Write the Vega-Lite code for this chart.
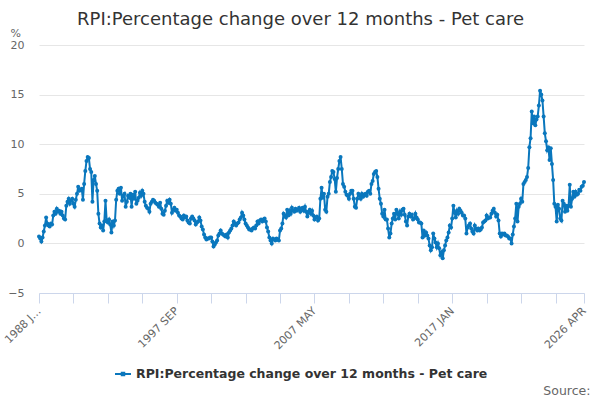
{
  "$schema": "https://vega.github.io/schema/vega-lite/v6.json",
  "description": "RPI: Percentage change over 12 months - Pet care, monthly.",
  "autosize": "none",
  "padding": {"left": 39, "top": 45, "right": 16, "bottom": 107},
  "width": 545,
  "height": 248,
  "title": {
    "text": "RPI:Percentage change over 12 months - Pet care",
    "anchor": "middle",
    "frame": "group",
    "dx": -11,
    "dy": 19,
    "offset": 17,
    "fontSize": 18,
    "fontWeight": "normal",
    "color": "#333333"
  },
  "data": {
    "values": [
      {"month": "1988 JAN", "value": 0.7}, {"month": "1988 FEB", "value": 0.5}, {"month": "1988 MAR", "value": 0.2}, {"month": "1988 APR", "value": 0.6}, {"month": "1988 MAY", "value": 1.2}, {"month": "1988 JUN", "value": 1.8}, {"month": "1988 JUL", "value": 2.6}, {"month": "1988 AUG", "value": 2.0}, {"month": "1988 SEP", "value": 1.8}, {"month": "1988 OCT", "value": 1.7}, {"month": "1988 NOV", "value": 2.0}, {"month": "1988 DEC", "value": 1.9},
      {"month": "1989 JAN", "value": 2.8}, {"month": "1989 FEB", "value": 3.2}, {"month": "1989 MAR", "value": 3.0}, {"month": "1989 APR", "value": 3.5}, {"month": "1989 MAY", "value": 3.2}, {"month": "1989 JUN", "value": 3.3}, {"month": "1989 JUL", "value": 3.0}, {"month": "1989 AUG", "value": 3.2}, {"month": "1989 SEP", "value": 2.8}, {"month": "1989 OCT", "value": 2.5}, {"month": "1989 NOV", "value": 2.4}, {"month": "1989 DEC", "value": 3.8},
      {"month": "1990 JAN", "value": 4.2}, {"month": "1990 FEB", "value": 4.5}, {"month": "1990 MAR", "value": 4.0}, {"month": "1990 APR", "value": 4.3}, {"month": "1990 MAY", "value": 4.5}, {"month": "1990 JUN", "value": 4.0}, {"month": "1990 JUL", "value": 3.7}, {"month": "1990 AUG", "value": 4.4}, {"month": "1990 SEP", "value": 5.0}, {"month": "1990 OCT", "value": 5.7}, {"month": "1990 NOV", "value": 5.3}, {"month": "1990 DEC", "value": 5.4},
      {"month": "1991 JAN", "value": 5.5}, {"month": "1991 FEB", "value": 4.4}, {"month": "1991 MAR", "value": 6.0}, {"month": "1991 APR", "value": 7.3}, {"month": "1991 MAY", "value": 8.3}, {"month": "1991 JUN", "value": 8.7}, {"month": "1991 JUL", "value": 8.6}, {"month": "1991 AUG", "value": 7.5}, {"month": "1991 SEP", "value": 7.2}, {"month": "1991 OCT", "value": 4.2}, {"month": "1991 NOV", "value": 6.4}, {"month": "1991 DEC", "value": 6.8},
      {"month": "1992 JAN", "value": 6.0}, {"month": "1992 FEB", "value": 5.3}, {"month": "1992 MAR", "value": 3.0}, {"month": "1992 APR", "value": 2.0}, {"month": "1992 MAY", "value": 1.6}, {"month": "1992 JUN", "value": 1.8}, {"month": "1992 JUL", "value": 1.3}, {"month": "1992 AUG", "value": 2.2}, {"month": "1992 SEP", "value": 4.3}, {"month": "1992 OCT", "value": 2.3}, {"month": "1992 NOV", "value": 2.1}, {"month": "1992 DEC", "value": 2.4},
      {"month": "1993 JAN", "value": 1.9}, {"month": "1993 FEB", "value": 1.1}, {"month": "1993 MAR", "value": 2.2}, {"month": "1993 APR", "value": 1.8}, {"month": "1993 MAY", "value": 2.3}, {"month": "1993 JUN", "value": 4.4}, {"month": "1993 JUL", "value": 5.3}, {"month": "1993 AUG", "value": 5.5}, {"month": "1993 SEP", "value": 5.0}, {"month": "1993 OCT", "value": 5.6}, {"month": "1993 NOV", "value": 4.3}, {"month": "1993 DEC", "value": 4.8},
      {"month": "1994 JAN", "value": 5.0}, {"month": "1994 FEB", "value": 3.7}, {"month": "1994 MAR", "value": 4.2}, {"month": "1994 APR", "value": 4.8}, {"month": "1994 MAY", "value": 4.6}, {"month": "1994 JUN", "value": 5.0}, {"month": "1994 JUL", "value": 3.7}, {"month": "1994 AUG", "value": 4.9}, {"month": "1994 SEP", "value": 4.5}, {"month": "1994 OCT", "value": 5.2}, {"month": "1994 NOV", "value": 4.0}, {"month": "1994 DEC", "value": 4.3},
      {"month": "1995 JAN", "value": 4.6}, {"month": "1995 FEB", "value": 5.1}, {"month": "1995 MAR", "value": 4.8}, {"month": "1995 APR", "value": 5.3}, {"month": "1995 MAY", "value": 5.0}, {"month": "1995 JUN", "value": 4.2}, {"month": "1995 JUL", "value": 3.8}, {"month": "1995 AUG", "value": 3.6}, {"month": "1995 SEP", "value": 3.5}, {"month": "1995 OCT", "value": 3.2}, {"month": "1995 NOV", "value": 4.0}, {"month": "1995 DEC", "value": 4.2},
      {"month": "1996 JAN", "value": 4.4}, {"month": "1996 FEB", "value": 4.3}, {"month": "1996 MAR", "value": 4.1}, {"month": "1996 APR", "value": 4.0}, {"month": "1996 MAY", "value": 3.9}, {"month": "1996 JUN", "value": 3.7}, {"month": "1996 JUL", "value": 4.1}, {"month": "1996 AUG", "value": 3.5}, {"month": "1996 SEP", "value": 3.0}, {"month": "1996 OCT", "value": 2.9}, {"month": "1996 NOV", "value": 3.3}, {"month": "1996 DEC", "value": 3.8},
      {"month": "1997 JAN", "value": 4.3}, {"month": "1997 FEB", "value": 4.1}, {"month": "1997 MAR", "value": 4.4}, {"month": "1997 APR", "value": 4.0}, {"month": "1997 MAY", "value": 3.1}, {"month": "1997 JUN", "value": 3.4}, {"month": "1997 JUL", "value": 3.6}, {"month": "1997 AUG", "value": 3.3}, {"month": "1997 SEP", "value": 3.4}, {"month": "1997 OCT", "value": 3.1}, {"month": "1997 NOV", "value": 2.8}, {"month": "1997 DEC", "value": 2.7},
      {"month": "1998 JAN", "value": 2.5}, {"month": "1998 FEB", "value": 2.4}, {"month": "1998 MAR", "value": 2.8}, {"month": "1998 APR", "value": 2.6}, {"month": "1998 MAY", "value": 2.7}, {"month": "1998 JUN", "value": 2.3}, {"month": "1998 JUL", "value": 2.1}, {"month": "1998 AUG", "value": 2.0}, {"month": "1998 SEP", "value": 2.5}, {"month": "1998 OCT", "value": 2.7}, {"month": "1998 NOV", "value": 2.5}, {"month": "1998 DEC", "value": 2.3},
      {"month": "1999 JAN", "value": 1.9}, {"month": "1999 FEB", "value": 2.1}, {"month": "1999 MAR", "value": 2.2}, {"month": "1999 APR", "value": 2.6}, {"month": "1999 MAY", "value": 2.3}, {"month": "1999 JUN", "value": 1.7}, {"month": "1999 JUL", "value": 1.4}, {"month": "1999 AUG", "value": 0.9}, {"month": "1999 SEP", "value": 0.6}, {"month": "1999 OCT", "value": 0.4}, {"month": "1999 NOV", "value": 0.5}, {"month": "1999 DEC", "value": 0.5},
      {"month": "2000 JAN", "value": 0.6}, {"month": "2000 FEB", "value": 0.6}, {"month": "2000 MAR", "value": 0.2}, {"month": "2000 APR", "value": -0.3}, {"month": "2000 MAY", "value": -0.1}, {"month": "2000 JUN", "value": 0.1}, {"month": "2000 JUL", "value": 0.3}, {"month": "2000 AUG", "value": 0.8}, {"month": "2000 SEP", "value": 1.0}, {"month": "2000 OCT", "value": 1.3}, {"month": "2000 NOV", "value": 1.0}, {"month": "2000 DEC", "value": 0.9},
      {"month": "2001 JAN", "value": 0.8}, {"month": "2001 FEB", "value": 0.7}, {"month": "2001 MAR", "value": 0.9}, {"month": "2001 APR", "value": 0.6}, {"month": "2001 MAY", "value": 1.1}, {"month": "2001 JUN", "value": 1.3}, {"month": "2001 JUL", "value": 1.5}, {"month": "2001 AUG", "value": 1.8}, {"month": "2001 SEP", "value": 2.2}, {"month": "2001 OCT", "value": 2.0}, {"month": "2001 NOV", "value": 1.8}, {"month": "2001 DEC", "value": 2.0},
      {"month": "2002 JAN", "value": 2.1}, {"month": "2002 FEB", "value": 2.4}, {"month": "2002 MAR", "value": 2.6}, {"month": "2002 APR", "value": 3.1}, {"month": "2002 MAY", "value": 2.8}, {"month": "2002 JUN", "value": 2.4}, {"month": "2002 JUL", "value": 2.0}, {"month": "2002 AUG", "value": 1.8}, {"month": "2002 SEP", "value": 1.6}, {"month": "2002 OCT", "value": 1.4}, {"month": "2002 NOV", "value": 1.4}, {"month": "2002 DEC", "value": 1.3},
      {"month": "2003 JAN", "value": 1.5}, {"month": "2003 FEB", "value": 1.6}, {"month": "2003 MAR", "value": 1.5}, {"month": "2003 APR", "value": 1.8}, {"month": "2003 MAY", "value": 2.2}, {"month": "2003 JUN", "value": 2.0}, {"month": "2003 JUL", "value": 2.3}, {"month": "2003 AUG", "value": 2.4}, {"month": "2003 SEP", "value": 2.2}, {"month": "2003 OCT", "value": 2.4}, {"month": "2003 NOV", "value": 2.5}, {"month": "2003 DEC", "value": 2.2},
      {"month": "2004 JAN", "value": 1.6}, {"month": "2004 FEB", "value": 1.2}, {"month": "2004 MAR", "value": 0.6}, {"month": "2004 APR", "value": 0.3}, {"month": "2004 MAY", "value": 0.0}, {"month": "2004 JUN", "value": 0.5}, {"month": "2004 JUL", "value": 0.4}, {"month": "2004 AUG", "value": 0.3}, {"month": "2004 SEP", "value": 0.5}, {"month": "2004 OCT", "value": 0.4}, {"month": "2004 NOV", "value": 0.3}, {"month": "2004 DEC", "value": 1.3},
      {"month": "2005 JAN", "value": 1.5}, {"month": "2005 FEB", "value": 2.0}, {"month": "2005 MAR", "value": 3.0}, {"month": "2005 APR", "value": 2.8}, {"month": "2005 MAY", "value": 2.6}, {"month": "2005 JUN", "value": 3.4}, {"month": "2005 JUL", "value": 2.8}, {"month": "2005 AUG", "value": 3.3}, {"month": "2005 SEP", "value": 3.0}, {"month": "2005 OCT", "value": 3.6}, {"month": "2005 NOV", "value": 3.3}, {"month": "2005 DEC", "value": 3.2},
      {"month": "2006 JAN", "value": 3.5}, {"month": "2006 FEB", "value": 3.3}, {"month": "2006 MAR", "value": 3.4}, {"month": "2006 APR", "value": 3.6}, {"month": "2006 MAY", "value": 3.2}, {"month": "2006 JUN", "value": 3.5}, {"month": "2006 JUL", "value": 3.6}, {"month": "2006 AUG", "value": 3.3}, {"month": "2006 SEP", "value": 3.7}, {"month": "2006 OCT", "value": 3.2}, {"month": "2006 NOV", "value": 2.7}, {"month": "2006 DEC", "value": 3.2},
      {"month": "2007 JAN", "value": 3.4}, {"month": "2007 FEB", "value": 3.0}, {"month": "2007 MAR", "value": 3.3}, {"month": "2007 APR", "value": 2.8}, {"month": "2007 MAY", "value": 2.4}, {"month": "2007 JUN", "value": 2.6}, {"month": "2007 JUL", "value": 2.7}, {"month": "2007 AUG", "value": 2.3}, {"month": "2007 SEP", "value": 2.5}, {"month": "2007 OCT", "value": 4.5}, {"month": "2007 NOV", "value": 5.6}, {"month": "2007 DEC", "value": 4.6},
      {"month": "2008 JAN", "value": 5.0}, {"month": "2008 FEB", "value": 3.4}, {"month": "2008 MAR", "value": 3.2}, {"month": "2008 APR", "value": 4.7}, {"month": "2008 MAY", "value": 5.0}, {"month": "2008 JUN", "value": 6.2}, {"month": "2008 JUL", "value": 6.7}, {"month": "2008 AUG", "value": 7.3}, {"month": "2008 SEP", "value": 7.2}, {"month": "2008 OCT", "value": 6.5}, {"month": "2008 NOV", "value": 5.2}, {"month": "2008 DEC", "value": 6.6},
      {"month": "2009 JAN", "value": 7.5}, {"month": "2009 FEB", "value": 8.3}, {"month": "2009 MAR", "value": 8.7}, {"month": "2009 APR", "value": 7.5}, {"month": "2009 MAY", "value": 6.0}, {"month": "2009 JUN", "value": 5.7}, {"month": "2009 JUL", "value": 5.2}, {"month": "2009 AUG", "value": 4.9}, {"month": "2009 SEP", "value": 4.8}, {"month": "2009 OCT", "value": 4.5}, {"month": "2009 NOV", "value": 5.0}, {"month": "2009 DEC", "value": 5.3},
      {"month": "2010 JAN", "value": 5.3}, {"month": "2010 FEB", "value": 4.5}, {"month": "2010 MAR", "value": 3.7}, {"month": "2010 APR", "value": 3.6}, {"month": "2010 MAY", "value": 4.5}, {"month": "2010 JUN", "value": 5.0}, {"month": "2010 JUL", "value": 4.8}, {"month": "2010 AUG", "value": 4.5}, {"month": "2010 SEP", "value": 5.0}, {"month": "2010 OCT", "value": 4.7}, {"month": "2010 NOV", "value": 4.9}, {"month": "2010 DEC", "value": 5.0},
      {"month": "2011 JAN", "value": 4.8}, {"month": "2011 FEB", "value": 5.2}, {"month": "2011 MAR", "value": 5.3}, {"month": "2011 APR", "value": 5.0}, {"month": "2011 MAY", "value": 6.0}, {"month": "2011 JUN", "value": 6.3}, {"month": "2011 JUL", "value": 7.0}, {"month": "2011 AUG", "value": 7.2}, {"month": "2011 SEP", "value": 7.3}, {"month": "2011 OCT", "value": 6.7}, {"month": "2011 NOV", "value": 5.5}, {"month": "2011 DEC", "value": 4.5},
      {"month": "2012 JAN", "value": 4.0}, {"month": "2012 FEB", "value": 3.0}, {"month": "2012 MAR", "value": 2.7}, {"month": "2012 APR", "value": 3.4}, {"month": "2012 MAY", "value": 2.4}, {"month": "2012 JUN", "value": 2.4}, {"month": "2012 JUL", "value": 1.5}, {"month": "2012 AUG", "value": 0.6}, {"month": "2012 SEP", "value": 1.0}, {"month": "2012 OCT", "value": 2.0}, {"month": "2012 NOV", "value": 2.5}, {"month": "2012 DEC", "value": 3.0},
      {"month": "2013 JAN", "value": 2.4}, {"month": "2013 FEB", "value": 3.4}, {"month": "2013 MAR", "value": 3.0}, {"month": "2013 APR", "value": 2.5}, {"month": "2013 MAY", "value": 3.2}, {"month": "2013 JUN", "value": 2.9}, {"month": "2013 JUL", "value": 3.4}, {"month": "2013 AUG", "value": 3.5}, {"month": "2013 SEP", "value": 2.9}, {"month": "2013 OCT", "value": 2.2}, {"month": "2013 NOV", "value": 1.8}, {"month": "2013 DEC", "value": 2.7},
      {"month": "2014 JAN", "value": 3.0}, {"month": "2014 FEB", "value": 2.7}, {"month": "2014 MAR", "value": 2.9}, {"month": "2014 APR", "value": 2.4}, {"month": "2014 MAY", "value": 2.5}, {"month": "2014 JUN", "value": 3.0}, {"month": "2014 JUL", "value": 2.6}, {"month": "2014 AUG", "value": 2.4}, {"month": "2014 SEP", "value": 2.1}, {"month": "2014 OCT", "value": 2.1}, {"month": "2014 NOV", "value": 2.0}, {"month": "2014 DEC", "value": 0.6},
      {"month": "2015 JAN", "value": 1.3}, {"month": "2015 FEB", "value": 0.8}, {"month": "2015 MAR", "value": 1.1}, {"month": "2015 APR", "value": 0.8}, {"month": "2015 MAY", "value": 0.5}, {"month": "2015 JUN", "value": -0.2}, {"month": "2015 JUL", "value": -0.7}, {"month": "2015 AUG", "value": -0.4}, {"month": "2015 SEP", "value": 1.0}, {"month": "2015 OCT", "value": 0.5}, {"month": "2015 NOV", "value": 0.1}, {"month": "2015 DEC", "value": -0.4},
      {"month": "2016 JAN", "value": 0.0}, {"month": "2016 FEB", "value": -0.5}, {"month": "2016 MAR", "value": -1.2}, {"month": "2016 APR", "value": -0.9}, {"month": "2016 MAY", "value": -1.5}, {"month": "2016 JUN", "value": -0.7}, {"month": "2016 JUL", "value": -0.2}, {"month": "2016 AUG", "value": 0.3}, {"month": "2016 SEP", "value": 0.6}, {"month": "2016 OCT", "value": 1.1}, {"month": "2016 NOV", "value": 1.8}, {"month": "2016 DEC", "value": 1.6},
      {"month": "2017 JAN", "value": 2.5}, {"month": "2017 FEB", "value": 3.8}, {"month": "2017 MAR", "value": 3.1}, {"month": "2017 APR", "value": 2.6}, {"month": "2017 MAY", "value": 3.3}, {"month": "2017 JUN", "value": 3.0}, {"month": "2017 JUL", "value": 3.5}, {"month": "2017 AUG", "value": 3.3}, {"month": "2017 SEP", "value": 3.1}, {"month": "2017 OCT", "value": 2.8}, {"month": "2017 NOV", "value": 2.8}, {"month": "2017 DEC", "value": 2.5},
      {"month": "2018 JAN", "value": 1.0}, {"month": "2018 FEB", "value": 1.6}, {"month": "2018 MAR", "value": 1.8}, {"month": "2018 APR", "value": 2.0}, {"month": "2018 MAY", "value": 1.5}, {"month": "2018 JUN", "value": 1.2}, {"month": "2018 JUL", "value": 1.0}, {"month": "2018 AUG", "value": 1.8}, {"month": "2018 SEP", "value": 1.5}, {"month": "2018 OCT", "value": 1.3}, {"month": "2018 NOV", "value": 1.5}, {"month": "2018 DEC", "value": 1.3},
      {"month": "2019 JAN", "value": 1.4}, {"month": "2019 FEB", "value": 1.6}, {"month": "2019 MAR", "value": 2.1}, {"month": "2019 APR", "value": 2.2}, {"month": "2019 MAY", "value": 2.3}, {"month": "2019 JUN", "value": 2.8}, {"month": "2019 JUL", "value": 2.5}, {"month": "2019 AUG", "value": 2.6}, {"month": "2019 SEP", "value": 2.6}, {"month": "2019 OCT", "value": 3.0}, {"month": "2019 NOV", "value": 3.3}, {"month": "2019 DEC", "value": 3.5},
      {"month": "2020 JAN", "value": 3.1}, {"month": "2020 FEB", "value": 2.7}, {"month": "2020 MAR", "value": 2.9}, {"month": "2020 APR", "value": 2.3}, {"month": "2020 MAY", "value": 1.0}, {"month": "2020 JUN", "value": 0.7}, {"month": "2020 JUL", "value": 1.0}, {"month": "2020 AUG", "value": 0.9}, {"month": "2020 SEP", "value": 1.0}, {"month": "2020 OCT", "value": 0.8}, {"month": "2020 NOV", "value": 0.8}, {"month": "2020 DEC", "value": 0.7},
      {"month": "2021 JAN", "value": 0.5}, {"month": "2021 FEB", "value": 0.5}, {"month": "2021 MAR", "value": 0.0}, {"month": "2021 APR", "value": 0.9}, {"month": "2021 MAY", "value": 1.7}, {"month": "2021 JUN", "value": 2.5}, {"month": "2021 JUL", "value": 4.0}, {"month": "2021 AUG", "value": 2.2}, {"month": "2021 SEP", "value": 3.7}, {"month": "2021 OCT", "value": 4.0}, {"month": "2021 NOV", "value": 4.5}, {"month": "2021 DEC", "value": 4.2},
      {"month": "2022 JAN", "value": 6.0}, {"month": "2022 FEB", "value": 6.2}, {"month": "2022 MAR", "value": 6.4}, {"month": "2022 APR", "value": 6.7}, {"month": "2022 MAY", "value": 7.6}, {"month": "2022 JUN", "value": 9.7}, {"month": "2022 JUL", "value": 10.6}, {"month": "2022 AUG", "value": 13.3}, {"month": "2022 SEP", "value": 12.1}, {"month": "2022 OCT", "value": 12.8}, {"month": "2022 NOV", "value": 11.9}, {"month": "2022 DEC", "value": 12.5},
      {"month": "2023 JAN", "value": 12.8}, {"month": "2023 FEB", "value": 13.9}, {"month": "2023 MAR", "value": 15.4}, {"month": "2023 APR", "value": 15.0}, {"month": "2023 MAY", "value": 14.4}, {"month": "2023 JUN", "value": 12.8}, {"month": "2023 JUL", "value": 11.1}, {"month": "2023 AUG", "value": 10.3}, {"month": "2023 SEP", "value": 9.4}, {"month": "2023 OCT", "value": 9.7}, {"month": "2023 NOV", "value": 8.4}, {"month": "2023 DEC", "value": 9.6},
      {"month": "2024 JAN", "value": 8.0}, {"month": "2024 FEB", "value": 6.4}, {"month": "2024 MAR", "value": 4.0}, {"month": "2024 APR", "value": 3.7}, {"month": "2024 MAY", "value": 2.2}, {"month": "2024 JUN", "value": 3.9}, {"month": "2024 JUL", "value": 3.5}, {"month": "2024 AUG", "value": 2.5}, {"month": "2024 SEP", "value": 2.3}, {"month": "2024 OCT", "value": 4.3}, {"month": "2024 NOV", "value": 4.0}, {"month": "2024 DEC", "value": 3.2},
      {"month": "2025 JAN", "value": 3.8}, {"month": "2025 FEB", "value": 3.3}, {"month": "2025 MAR", "value": 3.8}, {"month": "2025 APR", "value": 5.9}, {"month": "2025 MAY", "value": 3.7}, {"month": "2025 JUN", "value": 4.5}, {"month": "2025 JUL", "value": 5.2}, {"month": "2025 AUG", "value": 4.7}, {"month": "2025 SEP", "value": 5.2}, {"month": "2025 OCT", "value": 4.9}, {"month": "2025 NOV", "value": 5.0}, {"month": "2025 DEC", "value": 5.4},
      {"month": "2026 JAN", "value": 5.3}, {"month": "2026 FEB", "value": 5.7}, {"month": "2026 MAR", "value": 5.8}, {"month": "2026 APR", "value": 6.2}
    ]
  },
  "mark": {
    "type": "line",
    "strokeWidth": 2,
    "point": {"filled": true, "size": 16}
  },
  "encoding": {
    "x": {
      "field": "month",
      "type": "ordinal",
      "sort": null,
      "scale": {"type": "point", "padding": 0},
      "axis": {
        "title": "Source:",
        "titleX": 551,
        "titleY": 97,
        "titleAlign": "right",
        "titleBaseline": "middle",
        "titleFontSize": 12.5,
        "titleFontWeight": "normal",
        "titleColor": "#666666",
        "values": ["1988 JAN", "1990 JUN", "1992 NOV", "1995 APR", "1997 SEP", "2000 FEB", "2002 JUL", "2004 DEC", "2007 MAY", "2009 OCT", "2012 MAR", "2014 AUG", "2017 JAN", "2019 JUN", "2021 NOV", "2024 APR", "2026 APR"],
        "labelExpr": "datum.value == '1988 JAN' ? '1988 J…' : indexof(['1997 SEP', '2007 MAY', '2017 JAN', '2026 APR'], datum.value) >= 0 ? datum.value : ''",
        "labelAngle": -45,
        "labelAlign": "right",
        "labelBaseline": "middle",
        "labelPadding": 6,
        "labelOverlap": false,
        "labelFontSize": 11,
        "labelColor": "#666666",
        "domainColor": "#ccd6eb",
        "tickColor": "#ccd6eb",
        "tickSize": 10,
        "grid": false
      }
    },
    "y": {
      "field": "value",
      "type": "quantitative",
      "scale": {"domain": [-5, 20], "nice": false, "zero": false},
      "axis": {
        "title": "%",
        "titleAngle": 0,
        "titleX": -29,
        "titleY": -9,
        "titleAlign": "left",
        "titleBaseline": "alphabetic",
        "titleFontSize": 11,
        "titleFontWeight": "normal",
        "titleColor": "#666666",
        "values": [-5, 0, 5, 10, 15, 20],
        "domain": false,
        "ticks": false,
        "labelPadding": 15,
        "labelFontSize": 11,
        "labelColor": "#666666",
        "gridColor": "#e6e6e6"
      }
    },
    "color": {
      "datum": "RPI:Percentage change over 12 months - Pet care",
      "type": "nominal",
      "scale": {"range": ["#0a77bd"]},
      "legend": {
        "title": null,
        "orient": "none",
        "legendX": 76,
        "legendY": 321,
        "labelFontSize": 12.5,
        "labelFontWeight": "bold",
        "labelColor": "#333333",
        "labelLimit": 500,
        "labelOffset": 5,
        "symbolSize": 256,
        "encode": {
          "symbols": {
            "update": {
              "shape": {"value": "M-1,-0.12H1V0.12H-1Z M-0.28,-0.28H0.28V0.28H-0.28Z"},
              "fill": {"value": "#0a77bd"},
              "stroke": {"value": "#0a77bd"},
              "strokeWidth": {"value": 0},
              "opacity": {"value": 1}
            }
          }
        }
      }
    }
  },
  "config": {
    "font": "DejaVu Sans",
    "background": "#ffffff",
    "view": {"stroke": null}
  }
}
